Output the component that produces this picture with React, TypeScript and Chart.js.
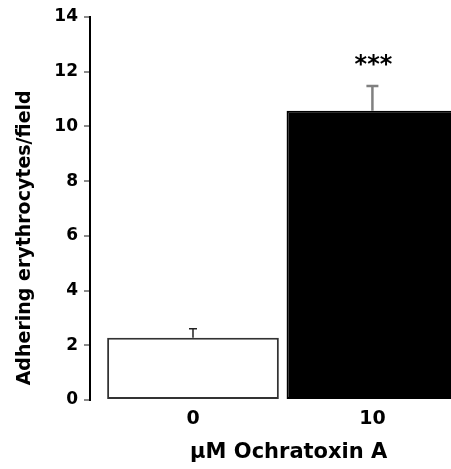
import React, { useEffect, useRef } from "react";
import { Chart, registerables } from "chart.js";

Chart.register(...registerables);

const categories = ["0", "10"];
const means = [2.28, 10.57];
const errors = [0.32, 0.91];
const significance = ["", "***"];
const yTicks = [0, 2, 4, 6, 8, 10, 12, 14];
const xTitle = "µM Ochratoxin A";
const yTitle = "Adhering erythrocytes/field";

const FONT = "'DejaVu Sans', sans-serif";

const overlayPlugin = {
  id: "overlay",
  afterDatasetsDraw(chart: any) {
    const ctx = chart.ctx;
    const xs = chart.scales.x;
    const ys = chart.scales.y;
    ctx.save();
    means.forEach((m, i) => {
      const x = xs.getPixelForValue(i);
      const yTop = ys.getPixelForValue(m);
      const yErr = ys.getPixelForValue(m + errors[i]);
      ctx.strokeStyle = i === 0 ? "#222" : "#808080";
      ctx.lineWidth = i === 0 ? 1.5 : 2.5;
      const cap = i === 0 ? 4 : 6;
      ctx.beginPath();
      ctx.moveTo(x, yTop);
      ctx.lineTo(x, yErr);
      ctx.moveTo(x - cap, yErr);
      ctx.lineTo(x + cap, yErr);
      ctx.stroke();
      if (significance[i]) {
        ctx.fillStyle = "#000";
        ctx.font = `bold 24px ${FONT}`;
        ctx.textAlign = "center";
        ctx.textBaseline = "middle";
        ctx.fillText(significance[i], x + 1, yErr - 20);
      }
    });
    // axis titles
    ctx.fillStyle = "#000";
    ctx.textAlign = "center";
    ctx.textBaseline = "middle";
    ctx.font = `bold 21px ${FONT}`;
    const xc = (xs.getPixelForValue(0) + xs.getPixelForValue(1)) / 2 + 6;
    ctx.fillText(xTitle, xc, chart.chartArea.bottom + 53);
    ctx.font = `bold 19px ${FONT}`;
    ctx.save();
    ctx.translate(25, ys.getPixelForValue(6) + 2);
    ctx.rotate(-Math.PI / 2);
    ctx.fillText(yTitle, 0, 0);
    ctx.restore();
    ctx.restore();
  },
};

export default function App() {
  const ref = useRef<HTMLCanvasElement>(null);
  useEffect(() => {
    if (!ref.current) return;
    const chart = new Chart(ref.current, {
      type: "bar",
      data: {
        datasets: [
          {
            data: means.map((m, i) => ({ x: i, y: m })),
            backgroundColor: ["#ffffff", "#000000"],
            borderColor: ["#333333", "#000000"],
            borderWidth: 2,
            borderSkipped: false,
            categoryPercentage: 1,
            barPercentage: 0.957,
            clip: false as any,
          },
        ],
      },
      options: {
        animation: false,
        responsive: false,
        devicePixelRatio: 1,
        layout: { padding: { top: 17, right: 0, bottom: 0, left: 0 } },
        plugins: { legend: { display: false }, tooltip: { enabled: false } },
        scales: {
          x: {
            type: "linear",
            offset: false,
            min: -0.574,
            max: 1.438,
            grid: { display: false },
            border: { display: false },
            afterBuildTicks: (s: any) => {
              s.ticks = categories.map((_, i) => ({ value: i }));
            },
            afterFit: (s: any) => {
              s.height = 69;
            },
            ticks: {
              callback: (v: any) => categories[v] ?? "",
              color: "#000",
              font: { family: FONT, weight: "bold", size: 19 },
              padding: 0,
              maxRotation: 0,
            },
          },
          y: {
            min: 0,
            max: 14,
            afterBuildTicks: (s: any) => {
              s.ticks = yTicks.map((v) => ({ value: v }));
            },
            afterFit: (s: any) => {
              s.width = 90;
            },
            grid: {
              drawOnChartArea: false,
              color: "#8a8a8a",
              tickLength: 6,
              lineWidth: 2,
            },
            border: { display: true, color: "#000", width: 2 },
            ticks: {
              color: "#000",
              font: { family: FONT, weight: "bold", size: 17 },
              padding: 6,
            },
          },
        },
      },
      plugins: [overlayPlugin],
    });
    return () => chart.destroy();
  }, []);
  return (
    <div
      style={{
        position: "fixed",
        left: 0,
        top: 0,
        width: 451,
        height: 469,
        overflow: "hidden",
        background: "#fff",
      }}
    >
      <canvas ref={ref} width={451} height={469} style={{ display: "block" }} />
    </div>
  );
}
